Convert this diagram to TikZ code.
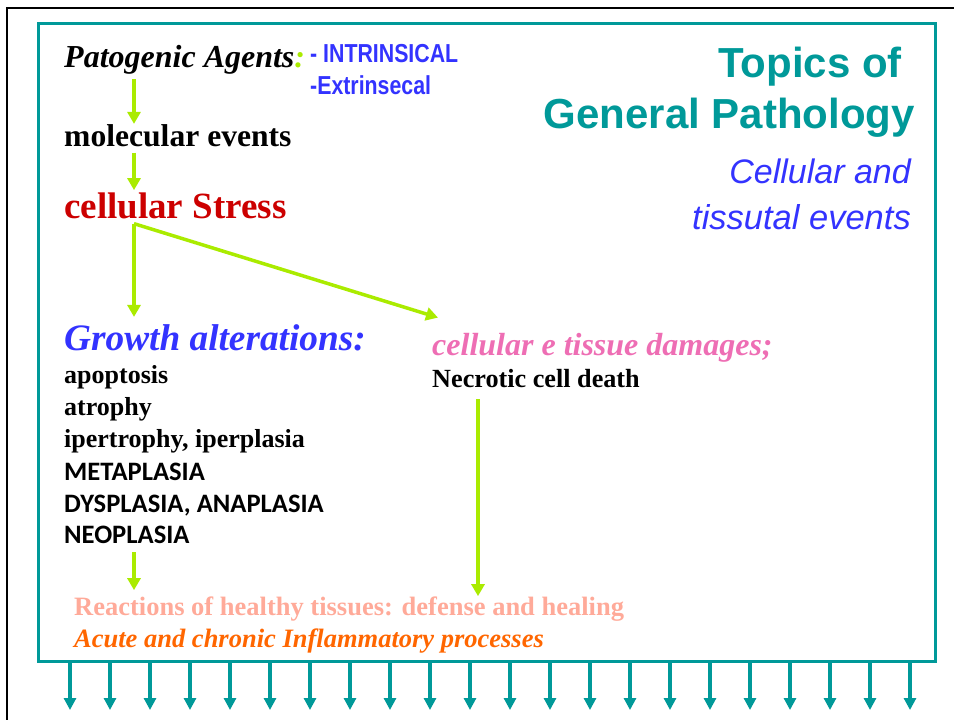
\documentclass[tikz,border=0pt]{standalone}
\usepackage{fontspec}
\setmainfont{Liberation Serif}
\newfontfamily\arialfont{Liberation Sans}
\newfontfamily\narrowfont[FakeStretch=0.82]{Liberation Sans}
\newfontfamily\calibfont{Carlito}
\usetikzlibrary{arrows.meta,calc}
\definecolor{limeg}{RGB}{170,235,0}
\definecolor{tealg}{RGB}{0,153,153}
\definecolor{bluec}{RGB}{51,51,255}
\definecolor{redc}{RGB}{204,0,0}
\definecolor{pinkc}{RGB}{238,110,180}
\definecolor{salmonc}{RGB}{255,170,153}
\definecolor{orangec}{RGB}{255,102,0}
\newcommand\px[1]{\fontsize{#1}{#1}\selectfont}
\begin{document}
\begin{tikzpicture}[x=1pt,y=-1pt,
  txt/.style={inner sep=0pt,anchor=base west},
  rtxt/.style={inner sep=0pt,anchor=base east},
  grn/.style={draw=limeg,line width=3.5pt,-{Triangle[width=13pt,length=12pt]}},
  tl/.style={draw=tealg,line width=3.2pt,-{Triangle[width=12pt,length=12pt]}}]
 \useasboundingbox (0,0) rectangle (954,720);
 % outer black frame
 \draw[line width=2pt] (7,725) -- (7,8) -- (960,8);
 % teal frame
 \node[draw=tealg,line width=3pt,inner sep=0pt,outer sep=0pt,
   minimum width=897pt,minimum height=638pt,anchor=north west] (frame) at (38,23) {};
 % title
 \node[rtxt,text=tealg] (top1) at (902,77) {\arialfont\bfseries\px{42}Topics of};
 \node[rtxt,text=tealg] (top2) at (915,128) {\arialfont\bfseries\px{42}General Pathology};
 \node[rtxt,text=bluec] (sub1) at (911,183) {\arialfont\itshape\px{34}Cellular and};
 \node[rtxt,text=bluec] (sub2) at (911,229) {\arialfont\itshape\px{34.5}tissutal events};
 % left chain
 \node[txt] (pat) at (64,67) {\bfseries\itshape\px{32}Patogenic Agents{\color{limeg}:}};
 \node[txt,text=bluec] (intr) at (310,62) {\narrowfont\bfseries\px{26}- INTRINSICAL};
 \node[txt,text=bluec] (extr) at (310,94) {\narrowfont\bfseries\px{26}-Extrinsecal};
 \node[txt] (mol) at (64,146) {\bfseries\px{31.6}molecular events};
 \node[txt,text=redc] (stress) at (64,218) {\bfseries\px{37}cellular Stress};
 \node[txt,text=bluec] (grow) at (64,350) {\bfseries\itshape\px{37.3}Growth alterations:};
 \node[txt] (apo) at (64,383) {\bfseries\px{26}apoptosis};
 \node[txt] (atr) at (64,415) {\bfseries\px{26}atrophy};
 \node[txt] (ipe) at (64,447) {\bfseries\px{26}ipertrophy, iperplasia};
 \node[txt] (met) at (64,480) {\calibfont\bfseries\px{26.6}METAPLASIA};
 \node[txt] (dys) at (64,512) {\calibfont\bfseries\px{26.6}DYSPLASIA, ANAPLASIA};
 \node[txt] (neo) at (64,543) {\calibfont\bfseries\px{26.6}NEOPLASIA};
 % right branch
 \node[txt,text=pinkc] (dmg) at (432,355) {\bfseries\itshape\px{32}cellular e tissue damages;};
 \node[txt] (necro) at (432,387) {\bfseries\px{26.2}Necrotic cell death};
 % bottom
 \node[txt,text=salmonc] (react) at (74,615) {\bfseries\px{26.5}Reactions of healthy tissues: defense and healing};
 \node[txt,text=orangec] (acute) at (74,647) {\bfseries\itshape\px{26.5}Acute and chronic Inflammatory processes};
 % arrows
 \coordinate (ax) at (134,0);
 \coordinate (bx) at (478,0);
 \draw[grn,shorten <=5pt] (pat.south -| ax) -- (mol.north -| ax);
 \draw[grn,shorten <=6pt,shorten >=2pt] (mol.south -| ax) -- (stress.north -| ax);
 \coordinate (fork) at ($(stress.south -| ax)+(0,5)$);
 \draw[grn,shorten >=7pt] (fork) -- (grow.north -| ax);
 \draw[grn] (fork) -- ($(dmg.north west)+(6,-15)$);
 \draw[grn,shorten <=9pt,shorten >=6pt] (neo.south -| ax) -- (react.north -| ax);
 \draw[grn,shorten <=12pt] (necro.south -| bx) -- (react.north -| bx);
 % teal arrows under the frame
 \foreach \i in {0,...,21}
  \draw[tl] ($(frame.south west)+({32+40*\i},0)$) -- ++(0,49);
\end{tikzpicture}
\end{document}
